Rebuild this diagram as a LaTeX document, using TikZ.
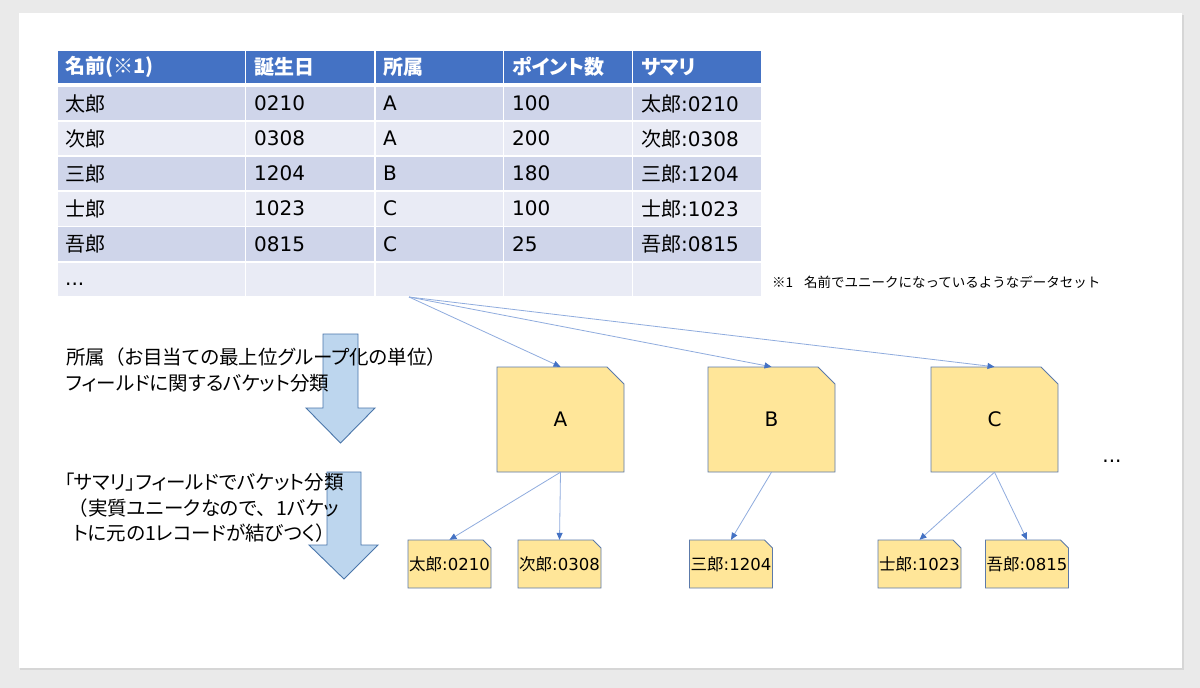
\documentclass[tikz,border=0pt]{standalone}
\usepackage{fontspec}
\setmainfont{DejaVu Sans}
\newfontfamily\jp{Noto Sans CJK JP}[RawFeature=+palt]
\newfontfamily\jpf{Noto Sans CJK JP}
\usetikzlibrary{arrows.meta}
\definecolor{outerbg}{RGB}{234,234,234}
\definecolor{shadowc}{RGB}{214,214,214}
\definecolor{hdr}{RGB}{68,114,196}
\definecolor{rowA}{RGB}{207,213,234}
\definecolor{rowB}{RGB}{233,235,245}
\definecolor{fold}{RGB}{255,230,153}
\definecolor{foldline}{RGB}{92,122,170}
\definecolor{conn}{RGB}{143,172,222}
\definecolor{tipc}{RGB}{68,114,196}
\definecolor{barfill}{RGB}{189,214,238}
\definecolor{barline}{RGB}{74,118,170}
\newcommand\folder[8]{%
  \draw[fshape] ({#2-#4/2},{#3-#5/2}) -- ({#2+#4/2-#6},{#3-#5/2}) -- ({#2+#4/2},{#3-#5/2+#6}) -- ({#2+#4/2},{#3+#5/2}) -- ({#2-#4/2},{#3+#5/2}) -- cycle;
  \node[inner sep=0, minimum width=#4, minimum height=#5, font=#7] (#1) at (#2,#3) {#8};}
\newcommand\fw[1]{{\jpf #1}}
\begin{document}
\begin{tikzpicture}[x=1pt,y=-1pt,
  cell/.style={anchor=west, inner sep=0, font=\fontsize{20}{24}\selectfont},
  hcell/.style={anchor=west, inner sep=0, text=white, font=\fontsize{20}{24}\selectfont\jp\bfseries},
  fshape/.style={fill=fold, draw=foldline, line width=0.9pt, line join=miter},
  conn/.style={draw=conn, line width=0.8pt, -{Triangle[length=7pt,width=6pt,color=tipc]}},
  bar/.style={fill=barfill, draw=barline, line width=0.9pt, line join=miter},
  note/.style={inner sep=0, font=\fontsize{19.5}{26}\selectfont\jp}]
\useasboundingbox (0,0) rectangle (1200,688);
\fill[outerbg] (0,0) rectangle (1200,688);
\fill[shadowc] (20,15) rectangle (1184,670);
\fill[white] (18.5,13) rectangle (1182,668);
% table background cells
\foreach \yt/\yb/\fc in {50/84/hdr, 86/121/rowA, 121/156/rowB, 156/191/rowA, 191/226.5/rowB, 226.5/262/rowA, 262/297/rowB}{
  \foreach \xl/\xr in {57/245.5, 245.5/375, 375/503.5, 503.5/632.5, 632.5/762}{
    \fill[\fc] (\xl+0.8,\yt+0.8) rectangle (\xr-0.8,\yb-0.8);
  }
}
% header
\node[hcell] (h1) at (65,67) {名前(※1)};
\node[hcell] (h2) at (254,67) {誕生日};
\node[hcell] (h3) at (383,67) {所属};
\node[hcell] (h4) at (512,67) {ポイント数};
\node[hcell] (h5) at (641,67) {サマリ};
% rows
\foreach \r/\yc/\na/\bd/\gr/\pt in {1/103.5/太郎/0210/A/100, 2/138.5/次郎/0308/A/200, 3/173.5/三郎/1204/B/180, 4/208.5/士郎/1023/C/100, 5/244/吾郎/0815/C/25}{
  \node[cell] (n\r) at (65,\yc) {\jp\na};
  \node[cell] (b\r) at (254,\yc) {\bd};
  \node[cell] (g\r) at (383,\yc) {\gr};
  \node[cell] (p\r) at (512,\yc) {\pt};
  \node[cell] (s\r) at (641,\yc) {{\jp\na}:\bd};
}
\node[cell] (tdots) at (65,284) {...};
\coordinate (src) at (409,297);
% footnote
\node[anchor=west, inner sep=0, font=\fontsize{13.5}{16}\selectfont\jpf] (fn) at (772,282) {※1\hspace{0.8em}名前でユニークになっているようなデータセット};
% block arrows
\draw[bar] (323,334) -- (358,334) -- (358,408) -- (375,408) -- (340.5,443) -- (306,408) -- (323,408) -- cycle;
\draw[bar] (327,472) -- (361,472) -- (361,545) -- (378,545) -- (344,579) -- (309,545) -- (327,545) -- cycle;
% notes
\node[note, anchor=west, align=left] (t1) at (66,370) {所属\fw{（}お目当ての最上位グループ化の単位\fw{）}\\フィールドに関するバケット分類};
\node[note, align=center, font=\fontsize{19.5}{25.5}\selectfont\jp] (t2) at (204,508) {「サマリ」フィールドでバケット分類\\\fw{（}実質ユニークなので\fw{、}1バケッ\\トに元の1レコードが結びつく\fw{）}};
% big folders
\folder{A}{560.5}{419.5}{127}{105}{17}{\fontsize{20}{24}\selectfont}{A}
\folder{B}{771.5}{419.5}{127}{105}{17}{\fontsize{20}{24}\selectfont}{B}
\folder{C}{994.5}{419.5}{127}{105}{17}{\fontsize{20}{24}\selectfont}{C}
\node[inner sep=0, font=\fontsize{20}{24}\selectfont] (rdots) at (1112,461) {...};
% small folders
\folder{taro}{449.5}{564}{83}{48}{8}{\fontsize{16.5}{20}\selectfont}{{\jp 太郎}:0210}
\folder{jiro}{559.5}{564}{83}{48}{8}{\fontsize{16.5}{20}\selectfont}{{\jp 次郎}:0308}
\folder{saburo}{731}{564}{83}{48}{8}{\fontsize{16.5}{20}\selectfont}{{\jp 三郎}:1204}
\folder{shiro}{919.5}{564}{83}{48}{8}{\fontsize{16.5}{20}\selectfont}{{\jp 士郎}:1023}
\folder{goro}{1027}{564}{83}{48}{8}{\fontsize{16.5}{20}\selectfont}{{\jp 吾郎}:0815}
% connectors
\draw[conn] (src) -- (A.north);
\draw[conn] (src) -- (B.north);
\draw[conn] (src) -- (C.north);
\draw[conn] (A.south) -- (taro.north);
\draw[conn] (A.south) -- (jiro.north);
\draw[conn] (B.south) -- (saburo.north);
\draw[conn] (C.south) -- (shiro.north);
\draw[conn] (C.south) -- (goro.north);
\end{tikzpicture}
\end{document}
